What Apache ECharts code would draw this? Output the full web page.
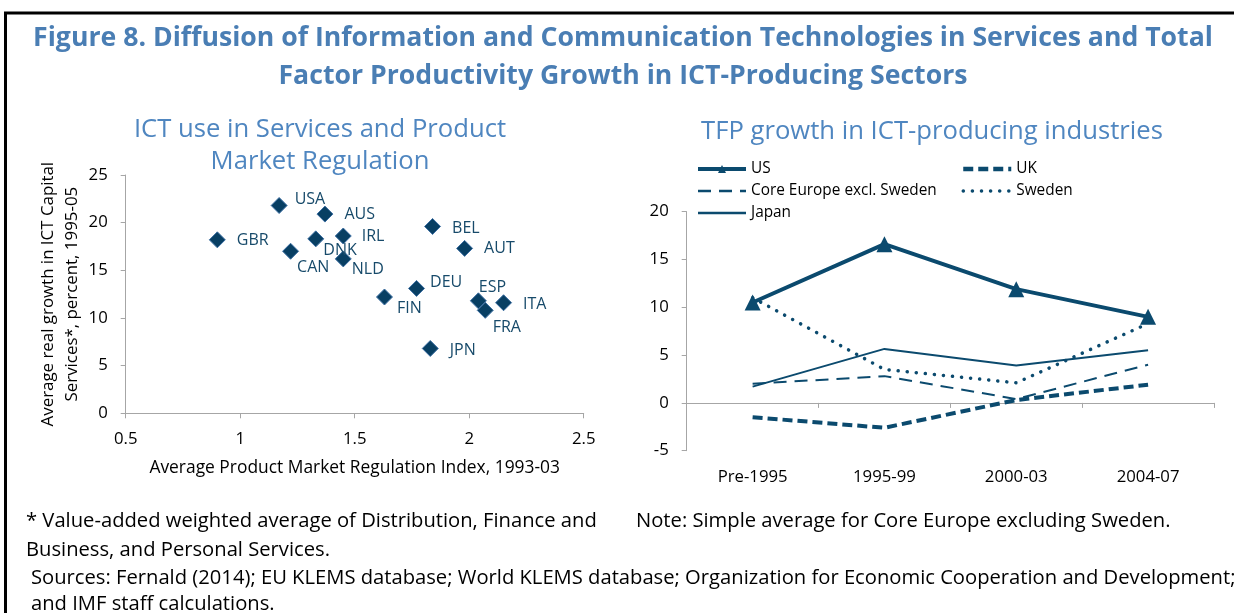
<!DOCTYPE html>
<html><head><meta charset="utf-8">
<script src="https://cdn.jsdelivr.net/npm/echarts@6/dist/echarts.min.js"></script>
<style>html,body{margin:0;padding:0;background:#fff}#c{width:1234px;height:613px}</style>
</head><body><div id="c"></div>
<script>
// ---- Data ----
const countries = ['USA','AUS','GBR','DNK','IRL','CAN','NLD','BEL','AUT','DEU','FIN','ESP','ITA','FRA','JPN'];
const pmrIndex  = [1.17,1.37,0.90,1.33,1.45,1.22,1.45,1.84,1.98,1.77,1.63,2.04,2.15,2.07,1.83];
const ictGrowth = [21.8,20.9,18.2,18.3,18.6,17.0,16.2,19.6,17.3,13.1,12.2,11.8,11.6,10.8,6.8];

const periods = ['Pre-1995','1995-99','2000-03','2004-07'];
const tfpUS          = [10.5,16.6,11.9,9.0];
const tfpUK          = [-1.5,-2.6,0.3,1.9];
const tfpCoreEurope  = [2.0,2.8,0.4,4.0];
const tfpSweden      = [11.0,3.5,2.1,8.3];
const tfpJapan       = [1.7,5.65,3.9,5.5];

// label placement (offset of label start from the marker centre)
const labelOffset = {USA:[16,-6],AUS:[20,1],GBR:[20,1],DNK:[8,12],IRL:[19,1],CAN:[7,17],NLD:[9,11],
  BEL:[20,2],AUT:[20,1],DEU:[14,-5],FIN:[13,12],ESP:[1,-13],ITA:[20,2],FRA:[8,18],JPN:[20,2]};

const titleLines = ['Figure 8. Diffusion of Information and Communication Technologies in Services and Total',
                    'Factor Productivity Growth in ICT-Producing Sectors'];
const leftTitle = ['ICT use in Services and Product','Market Regulation'];
const rightTitle = 'TFP growth in ICT-producing industries';
const note1 = '* Value-added weighted average of Distribution, Finance and';
const note2 = 'Business, and Personal Services.';
const note3 = 'Note: Simple average for Core Europe excluding Sweden.';
const sources1 = 'Sources: Fernald (2014); EU KLEMS database; World KLEMS database; Organization for Economic Cooperation and Development;';
const sources2 = 'and IMF staff calculations.';
const xName = 'Average Product Market Regulation Index, 1993-03';
const yName = 'Average real growth in ICT Capital\nServices*, percent, 1995-05';

const FONT = '"Open Sans", "Noto Sans", sans-serif';
const dark = '#0b4a6e';
const axisGrey = '#a6a6a6';

// font sizes fitted to the widths seen in the reference
const mctx = document.createElement('canvas').getContext('2d');
function fit(text, weight, target){ mctx.font = weight + ' 100px ' + FONT; return 100 * target / mctx.measureText(text).width; }
const titleSize = fit(titleLines[0], 'bold', 1180);
const subSize = (fit(leftTitle[0], 'normal', 378) + fit(rightTitle, 'normal', 455)) / 2;
const noteSize = (fit(note1, 'normal', 573) + fit(sources1, 'normal', 1202)) / 2;
const nameSize = fit(xName, 'normal', 411);
const tickSize = fit('Pre-1995', 'normal', 70);
const legendSize = fit('Core Europe excl. Sweden', 'normal', 186);

const chart = echarts.init(document.getElementById('c'), null, {renderer:'canvas'});

const scatterData = countries.map((c,i)=>{
  const o = labelOffset[c];
  return {name:c, value:[pmrIndex[i], ictGrowth[i]], label:{position:[8+o[0], 8+o[1]]}};
});

const axisCommon = {
  axisLine:{show:true, onZero:false, lineStyle:{color:axisGrey, width:1}},
  axisTick:{show:true, length:5, lineStyle:{color:axisGrey}},
  splitLine:{show:false},
  axisLabel:{fontSize:tickSize, color:'#000', fontFamily:FONT}
};
function txt(x, y, text, size, opts){
  return {type:'text', x:x, y:y, style:Object.assign({text:text, font:size.toFixed(2)+'px '+FONT, fill:'#000', verticalAlign:'middle', align:'left'}, opts||{})};
}

const legendCommon = {orient:'vertical', itemWidth:48, itemHeight:10, itemGap:6, padding:0,
  textStyle:{fontSize:legendSize, color:'#000', fontFamily:FONT, lineHeight:16}};

const option = {
  animation:false,
  textStyle:{fontFamily:FONT},
  grid:[
    {left:125.7, top:175, width:458, height:238.3},
    {left:686.7, top:211.7, width:527.3, height:239}
  ],
  xAxis:[
    Object.assign({}, axisCommon, {type:'value', gridIndex:0, min:0.5, max:2.5, interval:0.5,
      axisLabel:Object.assign({}, axisCommon.axisLabel, {margin:17}),
      name:xName, nameLocation:'middle', nameGap:46,
      nameTextStyle:{fontSize:nameSize, color:'#000', fontFamily:FONT}}),
    {type:'category', gridIndex:1, data:periods, position:'bottom',
      axisLine:{show:true, onZero:true, lineStyle:{color:axisGrey}},
      axisTick:{show:true, length:5, lineStyle:{color:axisGrey}},
      axisLabel:{show:false}, splitLine:{show:false}},
    {type:'category', gridIndex:1, data:periods, position:'bottom',
      axisLine:{show:false, onZero:false}, axisTick:{show:false}, splitLine:{show:false},
      axisLabel:{fontSize:tickSize, color:'#000', margin:18, fontFamily:FONT}}
  ],
  yAxis:[
    Object.assign({}, axisCommon, {type:'value', gridIndex:0, min:0, max:25, interval:5,
      axisLabel:Object.assign({}, axisCommon.axisLabel, {margin:18}),
      name:yName, nameLocation:'middle', nameRotate:90, nameGap:35,
      nameTextStyle:{fontSize:nameSize*0.97, color:'#000', lineHeight:24, fontFamily:FONT}}),
    Object.assign({}, axisCommon, {type:'value', gridIndex:1, min:-5, max:20, interval:5,
      axisLabel:Object.assign({}, axisCommon.axisLabel, {margin:18})})
  ],
  legend:[
    Object.assign({left:696, top:161, data:[{name:'US', lineStyle:{width:4}},
      {name:'Core Europe excl. Sweden', itemStyle:{opacity:0}, lineStyle:{width:2.5}},
      {name:'Japan', itemStyle:{opacity:0}, lineStyle:{width:2.5}}]}, legendCommon),
    Object.assign({left:961, top:161, data:[{name:'UK', itemStyle:{opacity:0}, lineStyle:{width:4.5}},
      {name:'Sweden', itemStyle:{opacity:0}, lineStyle:{width:3.5}}]}, legendCommon)
  ],
  series:[
    {type:'scatter', xAxisIndex:0, yAxisIndex:0, data:scatterData, symbol:'diamond', symbolSize:16,
     itemStyle:{color:'#083f63', borderColor:'#3d6fa3', borderWidth:1, opacity:1},
     label:{show:true, formatter:'{b}', fontSize:16, color:'#174a6a', align:'left', verticalAlign:'middle', fontFamily:FONT}},
    {name:'US', type:'line', xAxisIndex:1, yAxisIndex:1, data:tfpUS, symbol:'triangle', symbolSize:16,
     lineStyle:{color:dark, width:4}, itemStyle:{color:dark}},
    {name:'UK', type:'line', xAxisIndex:1, yAxisIndex:1, data:tfpUK, symbol:'none',
     lineStyle:{color:dark, width:4, type:[10,5]}, itemStyle:{color:dark}},
    {name:'Core Europe excl. Sweden', type:'line', xAxisIndex:1, yAxisIndex:1, data:tfpCoreEurope, symbol:'none',
     lineStyle:{color:dark, width:2, type:[13,8]}, itemStyle:{color:dark}},
    {name:'Sweden', type:'line', xAxisIndex:1, yAxisIndex:1, data:tfpSweden, symbol:'none',
     lineStyle:{color:dark, width:3.5, type:[0.1,9], cap:'round'}, itemStyle:{color:dark}},
    {name:'Japan', type:'line', xAxisIndex:1, yAxisIndex:1, data:tfpJapan, symbol:'none',
     lineStyle:{color:dark, width:2}, itemStyle:{color:dark}}
  ],
  graphic:[
    {type:'line', shape:{x1:4, y1:13, x2:1234, y2:13}, style:{stroke:'#000', lineWidth:3}},
    {type:'line', shape:{x1:5.5, y1:12, x2:5.5, y2:613}, style:{stroke:'#000', lineWidth:3}},
    txt(623, 38, titleLines[0], titleSize, {align:'center', fill:'#4a7eb4', font:'bold '+titleSize.toFixed(2)+'px '+FONT}),
    txt(623, 76, titleLines[1], titleSize, {align:'center', fill:'#4a7eb4', font:'bold '+titleSize.toFixed(2)+'px '+FONT}),
    txt(320, 130, leftTitle[0], subSize, {align:'center', fill:'#4f86c0'}),
    txt(320, 162, leftTitle[1], subSize, {align:'center', fill:'#4f86c0'}),
    txt(932, 132, rightTitle, subSize, {align:'center', fill:'#4f86c0'}),
    txt(26, 521, note1, noteSize),
    txt(26, 550, note2, noteSize),
    txt(636, 521, note3, noteSize),
    txt(31, 578.5, sources1, noteSize),
    txt(31, 604, sources2, noteSize)
  ]
};
chart.setOption(option);
</script></body></html>
